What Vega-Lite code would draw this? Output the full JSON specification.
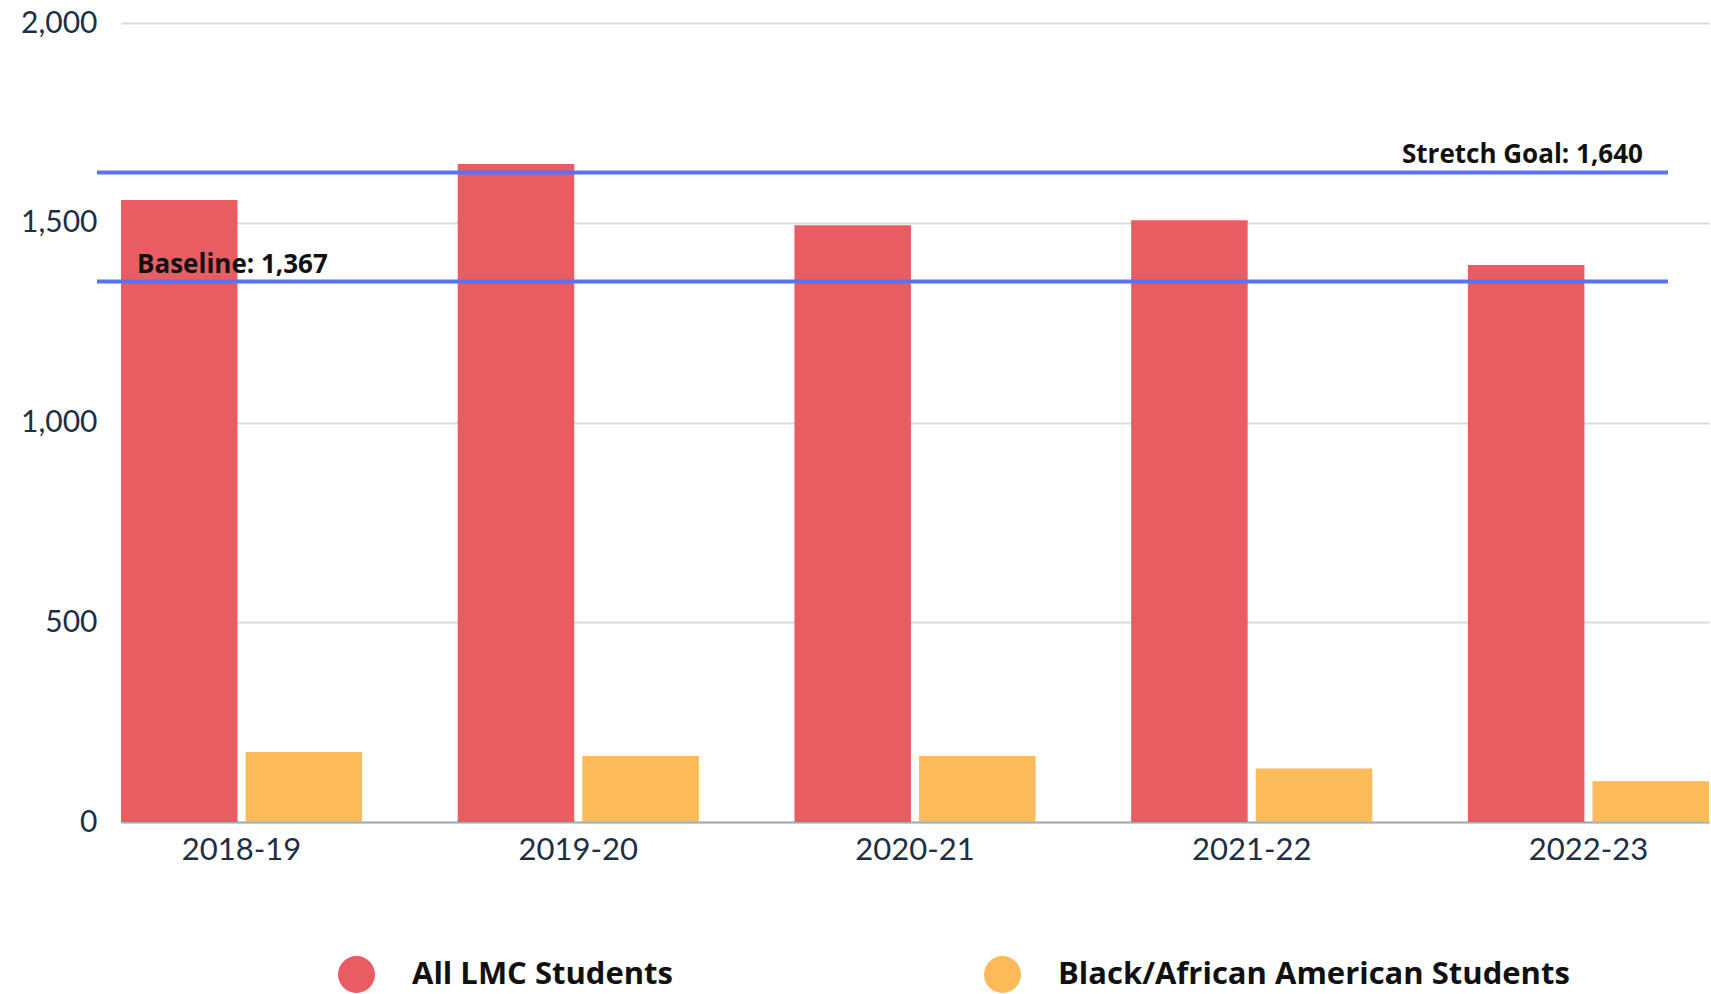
{
  "$schema": "https://vega.github.io/schema/vega-lite/v6.json",
  "width": 1588,
  "height": 799,
  "autosize": {"type": "none"},
  "padding": {"left": 121, "top": 23, "right": 2, "bottom": 172},
  "background": "white",
  "config": {"view": {"stroke": null}, "font": "Lato"},
  "datasets": {
    "bars": [
      {"year": "2018-19", "group": "All LMC Students", "value": 1557},
      {"year": "2018-19", "group": "Black/African American Students", "value": 175},
      {"year": "2019-20", "group": "All LMC Students", "value": 1647},
      {"year": "2019-20", "group": "Black/African American Students", "value": 165},
      {"year": "2020-21", "group": "All LMC Students", "value": 1494},
      {"year": "2020-21", "group": "Black/African American Students", "value": 165},
      {"year": "2021-22", "group": "All LMC Students", "value": 1506},
      {"year": "2021-22", "group": "Black/African American Students", "value": 134},
      {"year": "2022-23", "group": "All LMC Students", "value": 1394},
      {"year": "2022-23", "group": "Black/African American Students", "value": 102}
    ],
    "refs": [
      {"name": "Stretch Goal", "value": 1626, "label": "Stretch Goal: 1,640"},
      {"name": "Baseline", "value": 1353, "label": "Baseline: 1,367"}
    ]
  },
  "layer": [
    {
      "data": {"name": "bars"},
      "mark": {"type": "bar"},
      "encoding": {
        "x": {
          "field": "year", "type": "nominal", "sort": null,
          "scale": {"paddingInner": 0.284, "paddingOuter": 0},
          "axis": {"title": null, "ticks": false, "labelAngle": 0, "labelPadding": 13, "labelFontSize": 31, "labelColor": "#1c2f45", "domainColor": "#a3adb8", "domainWidth": 2, "grid": false}
        },
        "xOffset": {
          "field": "group", "type": "nominal",
          "sort": ["All LMC Students", "Black/African American Students"],
          "scale": {"paddingInner": 0.065, "paddingOuter": 0}
        },
        "y": {
          "field": "value", "type": "quantitative",
          "scale": {"domain": [0, 2000]},
          "axis": {"values": [0, 500, 1000, 1500, 2000], "format": ",.0f", "title": null, "domain": false, "ticks": false, "labelPadding": 24, "labelFontSize": 30, "labelColor": "#1c2f45", "gridColor": "#d8dbde", "gridWidth": 2}
        },
        "color": {
          "field": "group", "type": "nominal",
          "scale": {"domain": ["All LMC Students", "Black/African American Students"], "range": ["#E85C62", "#FDBA58"]},
          "legend": {
            "orient": "none", "legendX": 217, "legendY": 933, "direction": "horizontal", "title": null,
            "symbolType": "circle", "symbolSize": 1369, "symbolStrokeWidth": 0,
            "labelFont": "Open Sans", "labelFontSize": 31, "labelFontWeight": "bold", "labelColor": "#111111",
            "labelOffset": 37, "columnPadding": 311, "labelLimit": 1000, "padding": 0,
            "encode": {"symbols": {
              "enter": {"fill": {"signal": "datum.value === 'All LMC Students' ? '#E85C62' : '#FFDA5A'"}},
              "update": {"fill": {"signal": "datum.value === 'All LMC Students' ? '#E85C62' : '#FFDA5A'"}, "opacity": {"value": 1}}
            }}
          }
        }
      }
    },
    {
      "data": {"name": "refs"},
      "mark": {"type": "rule", "color": "#5B72F6", "strokeWidth": 4, "xOffset": -24, "x2Offset": -41},
      "encoding": {
        "x": {"datum": "2018-19", "bandPosition": 0},
        "x2": {"datum": "2022-23", "bandPosition": 1},
        "y": {"field": "value", "type": "quantitative"}
      }
    },
    {
      "data": {"name": "refs"},
      "transform": [{"filter": "datum.name === 'Baseline'"}],
      "mark": {"type": "text", "align": "left", "baseline": "alphabetic", "dx": 16, "dy": -8, "font": "Open Sans", "fontSize": 26, "fontWeight": "bold", "color": "#111111"},
      "encoding": {
        "x": {"datum": "2018-19", "bandPosition": 0},
        "y": {"field": "value", "type": "quantitative"},
        "text": {"field": "label"}
      }
    },
    {
      "data": {"name": "refs"},
      "transform": [{"filter": "datum.name === 'Stretch Goal'"}],
      "mark": {"type": "text", "align": "right", "baseline": "alphabetic", "dx": 175, "dy": -9, "font": "Open Sans", "fontSize": 26, "fontWeight": "bold", "color": "#111111"},
      "encoding": {
        "x": {"datum": "2022-23", "bandPosition": 0},
        "y": {"field": "value", "type": "quantitative"},
        "text": {"field": "label"}
      }
    }
  ]
}
